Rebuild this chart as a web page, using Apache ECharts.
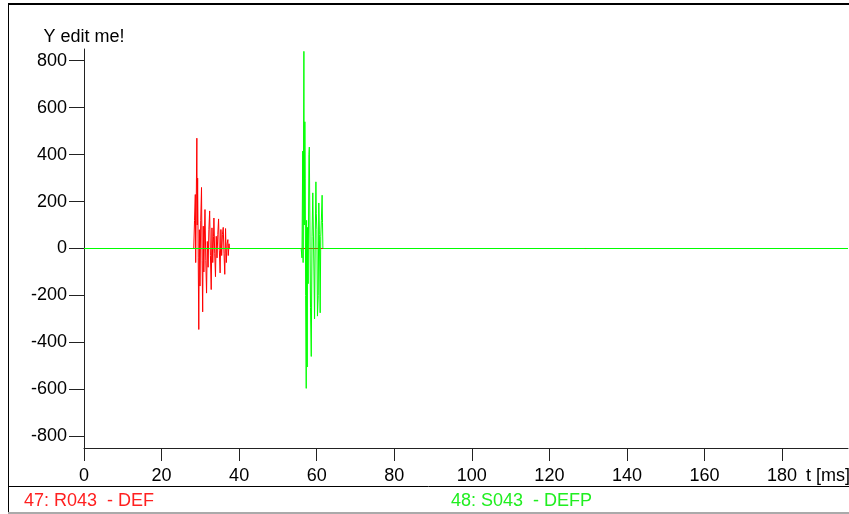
<!DOCTYPE html>
<html>
<head>
<meta charset="utf-8">
<script src="https://cdn.jsdelivr.net/npm/echarts@6/dist/echarts.min.js"></script>
<style>
html,body{margin:0;padding:0;background:#fff;}
#c{width:849px;height:514px;}
</style>
</head>
<body>
<div id="c"></div>
<script>
// ---- data ----
const yTicks = [-800, -600, -400, -200, 0, 200, 400, 600, 800];
const xTicks = [0, 20, 40, 60, 80, 100, 120, 140, 160, 180];
const redName = '47: R043  - DEF';
const greenName = '48: S043  - DEFP';
const redT = [0, 28.3, 28.5, 28.7, 28.8, 29.0, 29.1, 29.2, 29.3, 29.45, 29.6, 29.75, 29.9, 30.1, 30.3, 30.45, 30.6, 30.75, 30.9, 31.1, 31.2, 31.4, 31.6, 31.8, 32.0, 32.2, 32.4, 32.6, 32.8, 33.0, 33.2, 33.4, 33.5, 33.7, 33.9, 34.1, 34.3, 34.5, 34.7, 34.9, 35.1, 35.3, 35.5, 35.7, 35.9, 36.1, 36.3, 36.5, 36.7, 36.9, 37.1, 37.2, 37.4, 37.5, 197];
const redV = [0, 0, 120, 230, -60, 300, 470, 100, 300, -40, -345, 80, -160, 120, 260, -50, -270, 95, -100, 100, 166, -50, -190, 30, -80, 80, 160, -30, -175, 88, -60, 50, 130, -20, -120, 52, -40, 60, 126, -10, -104, 81, -30, 60, 90, -20, -110, 85, -60, 20, 38, -30, 20, 0, 0];
const greenT = [0, 56.0, 56.2, 56.4, 56.5, 56.7, 56.8, 56.95, 57.05, 57.15, 57.3, 57.4, 57.55, 57.65, 57.8, 58.0, 58.1, 58.25, 58.4, 58.6, 58.8, 59.0, 59.1, 59.3, 59.45, 59.6, 59.8, 59.9, 60.05, 60.2, 60.4, 60.55, 60.7, 60.9, 61.05, 61.2, 61.4, 61.5, 61.6, 61.7, 197];
const greenV = [0, 0, -40, 415, -60, 840, 100, 540, 300, -200, -596, 120, -505, 90, -150, 400, 432, 100, -250, -460, 50, 237, 244, -100, -300, 0, 284, 150, 80, -288, -200, 194, 60, -274, 50, 120, 227, 110, 0, 0, 0];

const font = 'Liberation Sans';
const fs = 18;
const pairs = (t, v) => t.map((x, i) => [x, v[i]]);

const chart = echarts.init(document.getElementById('c'), null, {renderer: 'canvas'});
chart.setOption({
  animation: false,
  backgroundColor: '#fff',
  grid: {left: 84, right: 1, top: 49, bottom: 66, containLabel: false, outerBoundsMode: 'none'},
  legend: [
    {data: [{name: redName, textStyle: {color: '#ff2020'}}], left: 13, top: 487, itemWidth: 0, itemHeight: 0,
     textStyle: {fontFamily: font, fontSize: fs}, selectedMode: false},
    {data: [{name: greenName, textStyle: {color: '#20ee20'}}], left: 440, top: 487, itemWidth: 0, itemHeight: 0,
     textStyle: {fontFamily: font, fontSize: fs}, selectedMode: false}
  ],
  xAxis: {
    type: 'value', min: 0, max: 197,
    name: 't [ms]', nameLocation: 'end', nameGap: -42,
    nameTextStyle: {fontFamily: font, fontSize: fs, color: '#000', verticalAlign: 'top', align: 'left', padding: [19, 0, 0, 0]},
    axisLine: {show: true, onZero: false, lineStyle: {color: '#222', width: 1}},
    axisTick: {show: true, inside: false, length: 13, customValues: xTicks, lineStyle: {color: '#222'}},
    axisLabel: {customValues: xTicks, margin: 19, color: '#000', fontFamily: font, fontSize: fs},
    splitLine: {show: false}
  },
  yAxis: {
    type: 'value', min: -850, max: 850,
    name: 'Y edit me!', nameLocation: 'end', nameGap: 3,
    nameTextStyle: {fontFamily: font, fontSize: fs, color: '#000', align: 'center'},
    axisLine: {show: true, onZero: false, lineStyle: {color: '#222', width: 1}},
    axisTick: {show: true, inside: false, length: 15, customValues: yTicks, lineStyle: {color: '#222'}},
    axisLabel: {customValues: yTicks, margin: 17, color: '#000', fontFamily: font, fontSize: fs},
    splitLine: {show: false}
  },
  series: [
    {name: redName, type: 'line', data: pairs(redT, redV), showSymbol: false, symbol: 'none',
     lineStyle: {color: '#ff0000', width: 1}, itemStyle: {color: '#ff0000'}, z: 2},
    {name: greenName, type: 'line', data: pairs(greenT, greenV), showSymbol: false, symbol: 'none',
     lineStyle: {color: '#00ff00', width: 1}, itemStyle: {color: '#00ff00'}, z: 3}
  ],
  graphic: [
    {type: 'line', shape: {x1: 8, y1: 4, x2: 849, y2: 4}, style: {stroke: '#000', lineWidth: 2}},
    {type: 'line', shape: {x1: 8.5, y1: 4, x2: 8.5, y2: 514}, style: {stroke: '#000', lineWidth: 1}},
    {type: 'line', shape: {x1: 8, y1: 486.5, x2: 849, y2: 486.5}, style: {stroke: '#000', lineWidth: 1}},
    {type: 'line', shape: {x1: 8, y1: 513, x2: 849, y2: 513}, style: {stroke: '#aaa', lineWidth: 2}}
  ]
});
</script>
</body>
</html>
